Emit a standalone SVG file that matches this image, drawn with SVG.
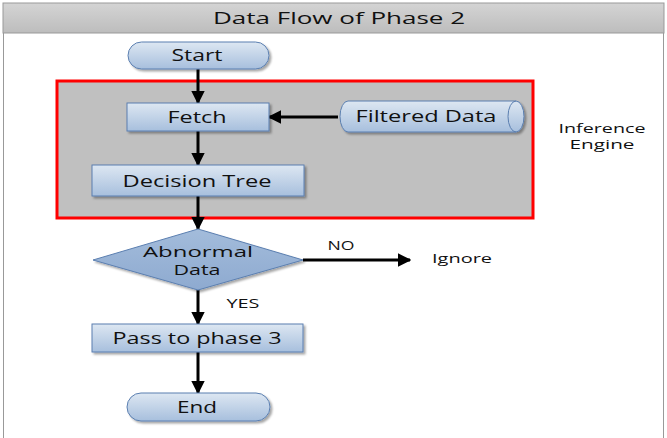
<svg xmlns="http://www.w3.org/2000/svg" width="667" height="438" viewBox="0 0 667 438">
<defs>
<linearGradient id="gNode" x1="0" y1="0" x2="0" y2="1">
<stop offset="0" stop-color="#dde7f2"/>
<stop offset="1" stop-color="#a7bfdd"/>
</linearGradient>
<linearGradient id="gDia" x1="0" y1="0" x2="0" y2="1">
<stop offset="0" stop-color="#a3bcdb"/>
<stop offset="1" stop-color="#8eaad0"/>
</linearGradient>
<linearGradient id="gTitle" x1="0" y1="0" x2="0" y2="1">
<stop offset="0" stop-color="#d4d4d4"/>
<stop offset="1" stop-color="#bdbdbd"/>
</linearGradient>
<filter id="sh" x="-10%" y="-20%" width="130%" height="160%">
<feDropShadow dx="2" dy="2" stdDeviation="1.2" flood-color="#000" flood-opacity="0.35"/>
</filter>
<marker id="arr" viewBox="0 0 10 10" refX="9" refY="5" markerWidth="4.5" markerHeight="4.5" orient="auto" markerUnits="strokeWidth">
<path d="M0,0 L10,5 L0,10 z" fill="#000"/>
</marker>
</defs>
<style>
.node{fill:url(#gNode);stroke:#5b7fb0;stroke-width:1;filter:url(#sh)}
.t{font-family:"Open Sans","DejaVu Sans",sans-serif;font-size:16px;font-weight:500;fill:#111;text-anchor:middle;dominant-baseline:central}
.s{font-family:"Open Sans","DejaVu Sans",sans-serif;font-size:12.5px;font-weight:400;fill:#111;text-anchor:middle;dominant-baseline:central}
.c{stroke:#000;stroke-width:3;fill:none;marker-end:url(#arr)}
</style>
<rect x="0" y="0" width="667" height="438" fill="#fff"/>
<g id="title">
<rect x="3" y="3" width="661" height="30" fill="url(#gTitle)" stroke="#999" stroke-width="1"/>
<text class="t" x="339" y="18" textLength="252" lengthAdjust="spacingAndGlyphs">Data Flow of Phase 2</text>
</g>
<line x1="3.5" y1="33" x2="3.5" y2="438" stroke="#999" stroke-width="1"/>
<line x1="663.5" y1="33" x2="663.5" y2="438" stroke="#999" stroke-width="1"/>
<g id="inference-engine">
<rect x="57" y="81" width="476" height="137" fill="#c0c0c0" stroke="#ff0000" stroke-width="3"/>
<text class="s" x="602" y="128" textLength="87" lengthAdjust="spacingAndGlyphs">Inference</text>
<text class="s" x="602" y="144" textLength="65" lengthAdjust="spacingAndGlyphs">Engine</text>
</g>
<g id="connectors">
<line class="c" x1="198" y1="69" x2="198" y2="103"/>
<line class="c" x1="198" y1="131" x2="198" y2="165"/>
<line class="c" x1="198" y1="196" x2="198" y2="229"/>
<line class="c" x1="198" y1="290" x2="198" y2="324"/>
<line class="c" x1="198" y1="352" x2="198" y2="393"/>
<line class="c" x1="338" y1="117" x2="269" y2="117"/>
<line class="c" x1="303" y1="260" x2="410" y2="260"/>
<text class="s" x="341" y="245" textLength="27" lengthAdjust="spacingAndGlyphs">NO</text>
<text class="s" x="243" y="303" textLength="33" lengthAdjust="spacingAndGlyphs">YES</text>
</g>
<g id="start">
<rect class="node" x="128" y="42" width="141" height="27" rx="13.5"/>
<text class="t" x="197" y="55" textLength="51" lengthAdjust="spacingAndGlyphs">Start</text>
</g>
<g id="fetch">
<rect class="node" x="127" y="103" width="142" height="28"/>
<text class="t" x="197" y="117" textLength="59" lengthAdjust="spacingAndGlyphs">Fetch</text>
</g>
<g id="filtered-data">
<path class="node" d="M348,101 L516,101 A8,15.5 0 0 1 516,132 L348,132 A8,15.5 0 0 1 348,101 Z"/>
<path d="M516,101 A8,15.5 0 0 0 516,132" fill="none" stroke="#5b7fb0" stroke-width="1"/>
<text class="t" x="426" y="116" textLength="141" lengthAdjust="spacingAndGlyphs">Filtered Data</text>
</g>
<g id="decision-tree">
<rect class="node" x="92" y="165" width="212" height="31"/>
<text class="t" x="197" y="181" textLength="149" lengthAdjust="spacingAndGlyphs">Decision Tree</text>
</g>
<g id="abnormal">
<polygon points="198,229 303,260 198,290 93,260" fill="url(#gDia)" stroke="#5b7fb0" stroke-width="1" filter="url(#sh)"/>
<text class="t" x="198" y="251" style="font-size:14.5px" textLength="110" lengthAdjust="spacingAndGlyphs">Abnormal</text>
<text class="t" x="197" y="269" style="font-size:14.5px" textLength="47" lengthAdjust="spacingAndGlyphs">Data</text>
</g>
<g id="ignore">
<text class="s" x="462" y="258" textLength="60" lengthAdjust="spacingAndGlyphs">Ignore</text>
</g>
<g id="pass">
<rect class="node" x="92" y="324" width="211" height="28"/>
<text class="t" x="197" y="338" textLength="169" lengthAdjust="spacingAndGlyphs">Pass to phase 3</text>
</g>
<g id="end">
<rect class="node" x="127" y="393" width="143" height="28" rx="14"/>
<text class="t" x="197" y="407" textLength="40" lengthAdjust="spacingAndGlyphs">End</text>
</g>
</svg>
